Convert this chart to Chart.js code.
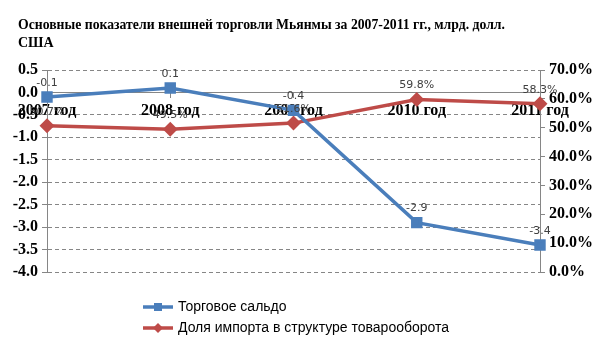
<!DOCTYPE html>
<html>
<head>
<meta charset="utf-8">
<script src="https://cdn.jsdelivr.net/npm/chart.js@4/dist/chart.umd.min.js"></script>
<style>
  html, body { margin: 0; padding: 0; background: #ffffff; }
  #wrap { width: 605px; height: 340px; }
</style>
</head>
<body>
<div id="wrap"><canvas id="tradeChart"></canvas></div>
<script>
// years and values
const years = ['2007 год', '2008 год', '2009 год', '2010 год', '2011 год'];
const tradeBalance = [-0.1, 0.1, -0.4, -2.9, -3.4];       // млрд. долл. США
const importShare = [50.7, 49.5, 51.6, 59.8, 58.3];        // %

const balanceMin = -4, balanceMax = 0.5, balanceStep = 0.5;
const shareMin = 0, shareMax = 70, shareStep = 10;

const titleLines = ['Основные показатели внешней торговли Мьянмы за 2007-2011 гг., млрд. долл.', 'США'];

const blue = '#4a7ebb';
const red = '#be4b48';
const axisGray = '#868686';
const serifBold = { family: '"Liberation Serif", "Times New Roman", serif', size: 16, weight: 'bold' };

// two-line heading, left aligned
const heading = {
    id: 'heading',
    afterDraw(chart) {
        const ctx = chart.ctx;
        ctx.save();
        ctx.font = 'bold 14px "Liberation Serif", "Times New Roman", serif';
        ctx.fillStyle = '#000000';
        ctx.textAlign = 'left';
        ctx.textBaseline = 'alphabetic';
        ctx.fillText(titleLines[0], 18, 29, 487);
        ctx.fillText(titleLines[1], 18, 47);
        ctx.restore();
    }
};

// value labels above every point
const pointLabels = {
    id: 'pointLabels',
    afterDatasetsDraw(chart) {
        const ctx = chart.ctx;
        ctx.save();
        ctx.font = '11px "DejaVu Sans", sans-serif';
        ctx.fillStyle = '#404040';
        ctx.textAlign = 'center';
        ctx.textBaseline = 'middle';
        chart.data.datasets.forEach((ds, i) => {
            chart.getDatasetMeta(i).data.forEach((pt, j) => {
                const v = ds.data[j];
                const txt = i === 0 ? v.toFixed(1) : v.toFixed(1) + '%';
                ctx.fillText(txt, pt.x, pt.y - 14);
            });
        });
        ctx.restore();
    }
};

// stacked legend under the plot
const stackedLegend = {
    id: 'stackedLegend',
    afterDraw(chart) {
        const ctx = chart.ctx;
        const x0 = 143, rows = [307, 328];
        ctx.save();
        chart.data.datasets.forEach((ds, i) => {
            const y = rows[i];
            ctx.strokeStyle = ds.borderColor;
            ctx.lineWidth = 3.5;
            ctx.beginPath();
            ctx.moveTo(x0, y);
            ctx.lineTo(x0 + 30, y);
            ctx.stroke();
            ctx.fillStyle = ds.borderColor;
            ctx.beginPath();
            if (ds.pointStyle === 'rect') {
                ctx.rect(x0 + 11, y - 4, 8, 8);
            } else {
                ctx.moveTo(x0 + 15, y - 5);
                ctx.lineTo(x0 + 20, y);
                ctx.lineTo(x0 + 15, y + 5);
                ctx.lineTo(x0 + 10, y);
                ctx.closePath();
            }
            ctx.fill();
            ctx.fillStyle = '#000000';
            ctx.font = '14px "Liberation Sans", Arial, sans-serif';
            ctx.textAlign = 'left';
            ctx.textBaseline = 'middle';
            ctx.fillText(ds.label, x0 + 35, y);
        });
        ctx.restore();
    }
};

new Chart(document.getElementById('tradeChart'), {
    type: 'line',
    data: {
        labels: years,
        datasets: [
            {
                label: 'Торговое сальдо',
                data: tradeBalance,
                yAxisID: 'y',
                borderColor: blue,
                backgroundColor: blue,
                borderWidth: 3.5,
                pointStyle: 'rect',
                pointRadius: 5.6,
                pointHoverRadius: 5.6,
                tension: 0,
                clip: false
            },
            {
                label: 'Доля импорта в структуре товарооборота',
                data: importShare,
                yAxisID: 'y1',
                borderColor: red,
                backgroundColor: red,
                borderWidth: 3.5,
                pointStyle: 'rectRot',
                pointRadius: 5,
                pointHoverRadius: 5,
                tension: 0,
                clip: false
            }
        ]
    },
    options: {
        responsive: true,
        maintainAspectRatio: false,
        animation: false,
        layout: { padding: { left: 0, right: 0, top: 70, bottom: 68 } },
        plugins: {
            legend: { display: false },
            tooltip: { enabled: false },
            title: { display: false }
        },
        scales: {
            x: {
                type: 'category',
                position: { y: 0 },
                offset: false,
                grid: { display: true, drawOnChartArea: false, drawTicks: true, tickLength: 5, color: axisGray },
                border: { display: true, color: axisGray, width: 1 },
                ticks: { font: serifBold, color: '#000000', padding: 4, maxRotation: 0, autoSkip: false }
            },
            y: {
                position: 'left',
                min: balanceMin,
                max: balanceMax,
                grid: { color: axisGray, tickLength: 5, tickColor: axisGray, tickBorderDash: [] },
                border: {
                    display: true,
                    color: axisGray,
                    dash: c => (c.tick && c.tick.value === 0) ? [] : [4, 3]
                },
                ticks: {
                    stepSize: balanceStep,
                    font: serifBold,
                    color: '#000000',
                    padding: 4,
                    callback: v => Number(v).toFixed(1)
                },
                afterFit: s => { s.width = 47; }
            },
            y1: {
                position: 'right',
                min: shareMin,
                max: shareMax,
                grid: { drawOnChartArea: false, tickLength: 5, color: axisGray },
                border: { display: true, color: axisGray },
                ticks: {
                    stepSize: shareStep,
                    font: serifBold,
                    color: '#000000',
                    padding: 4,
                    callback: v => Number(v).toFixed(1) + '%'
                },
                afterFit: s => { s.width = 65; }
            }
        }
    },
    plugins: [heading, pointLabels, stackedLegend]
});
</script>
</body>
</html>
